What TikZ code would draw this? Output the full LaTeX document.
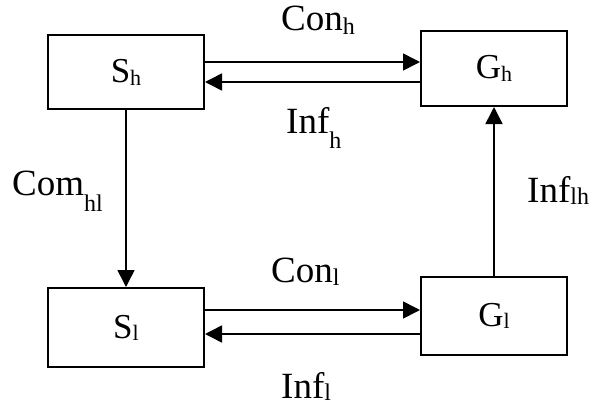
\documentclass[tikz,border=0pt]{standalone}
\usepackage{fontspec}
\setmainfont{Liberation Serif}
\usetikzlibrary{arrows.meta}
\newcommand{\lsub}[2]{\raisebox{-#2pt}{\fontsize{22}{24}\selectfont #1}}
\newcommand{\lsubb}[2]{\raisebox{-#2pt}{\fontsize{24}{26}\selectfont #1}}
\begin{document}
\begin{tikzpicture}[x=1pt,y=-1pt,
  box/.style={draw, line width=2pt, rectangle, inner sep=0, font=\fontsize{35}{40}\selectfont},
  arr/.style={line width=1.6pt, -{Triangle[length=17pt,width=17pt]}},
  lab/.style={font=\fontsize{37}{42}\selectfont, inner sep=0, anchor=base west}]
\useasboundingbox (0,0) rectangle (592,405);
\node[box, minimum width=156pt, minimum height=74pt] (Sh) at (126,72) {S\lsub{h}{3}};
\node[box, minimum width=146pt, minimum height=75pt] (Gh) at (494,68.5) {G\lsub{h}{3}};
\node[box, minimum width=156pt, minimum height=79pt] (Sl) at (126,327.5) {S\lsub{l}{2}};
\node[box, minimum width=146pt, minimum height=78pt] (Gl) at (494,316) {G\lsub{l}{2}};
% connectors
\draw[arr] (Sh.east |- 0,62) -- (Gh.west |- 0,62);
\draw[arr] (Gh.west |- 0,82) -- (Sh.east |- 0,82);
\draw[arr] (Sh.south) -- (Sl.north);
\draw[arr] (Sl.east |- 0,310) -- (Gl.west |- 0,310);
\draw[arr] (Gl.west |- 0,334) -- (Sl.east |- 0,334);
\draw[arr] (Gl.north) -- (Gh.south);
% labels
\node[lab] (conh) at (281,30) {Con\lsubb{h}{4}};
\node[lab] (infh) at (286,133) {Inf\lsubb{h}{15}};
\node[lab] (comhl) at (12,195) {Com\lsubb{hl}{16}};
\node[lab] (inflh) at (527,202) {Inf\lsubb{lh}{2}};
\node[lab] (conl) at (271,282) {Con\lsubb{l}{3}};
\node[lab] (infl) at (281,398) {Inf\lsubb{l}{2}};
\end{tikzpicture}
\end{document}
